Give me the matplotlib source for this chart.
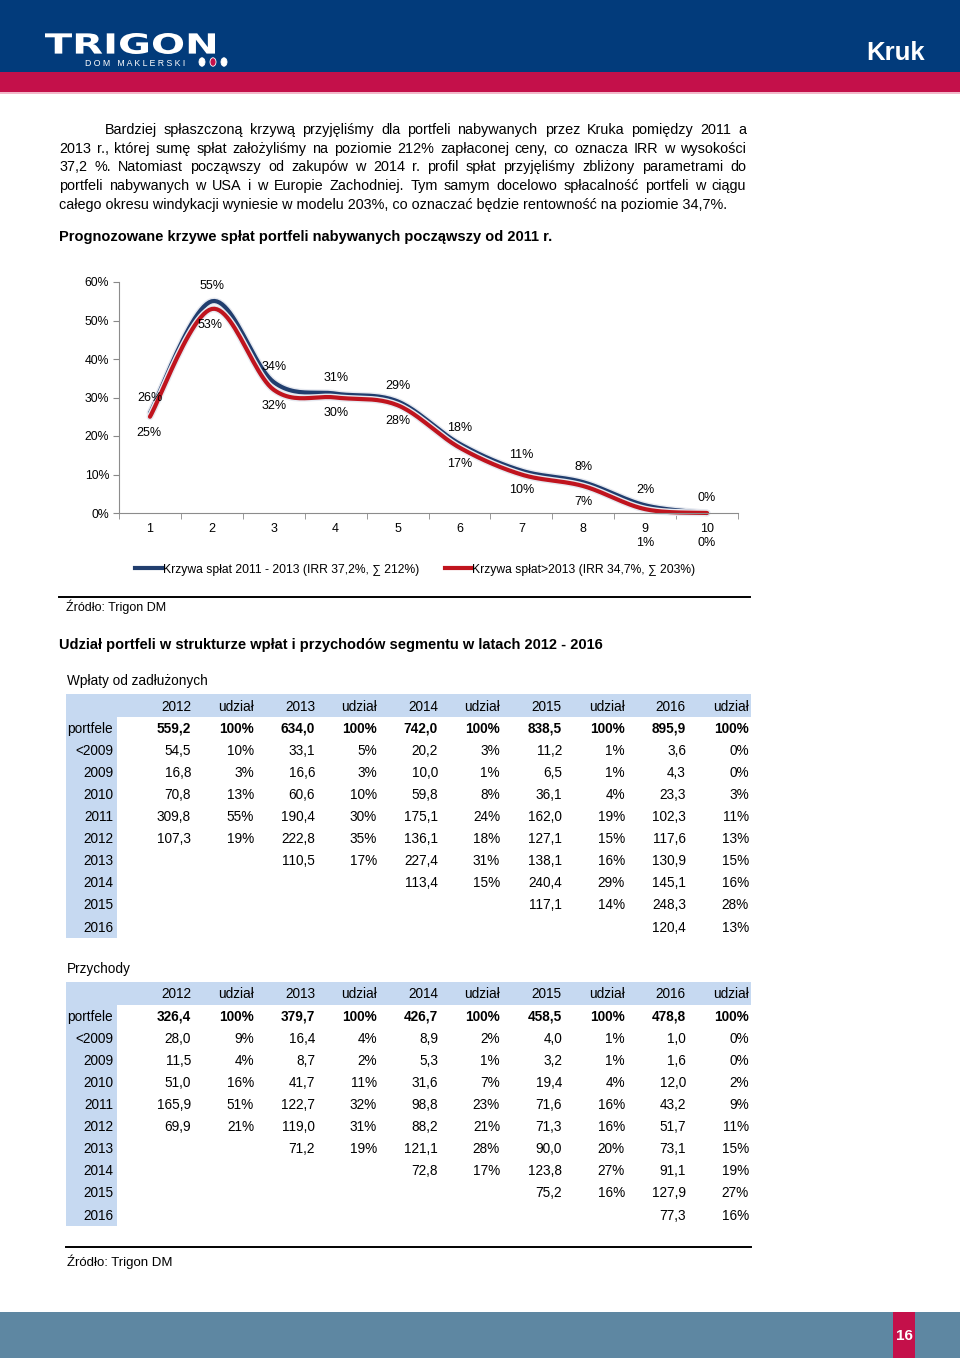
import matplotlib
matplotlib.use("Agg")
import matplotlib.pyplot as plt
import numpy as np
from matplotlib.patches import Rectangle, Circle, PathPatch
from matplotlib.lines import Line2D
from matplotlib.textpath import TextPath
from matplotlib.font_manager import FontProperties
from matplotlib.transforms import Affine2D

# chart data: forecast repayment curves (share of price per year)
periods = [1, 2, 3, 4, 5, 6, 7, 8, 9, 10]
curve_2011_2013 = [0.26, 0.55, 0.34, 0.31, 0.29, 0.18, 0.11, 0.08, 0.02, 0.00]
curve_after_2013 = [0.25, 0.53, 0.32, 0.30, 0.28, 0.17, 0.10, 0.07, 0.01, 0.00]
name_2011_2013 = "Krzywa spłat 2011 - 2013 (IRR 37,2%, \u2211 212%)"
name_after_2013 = "Krzywa spłat>2013 (IRR 34,7%, \u2211 203%)"

# tables
years = ["2012", "2013", "2014", "2015", "2016"]
row_labels = ["portfele", "<2009", "2009", "2010", "2011", "2012", "2013", "2014", "2015", "2016"]

wplaty_vals = {
    "2012": [559.2, 54.5, 16.8, 70.8, 309.8, 107.3],
    "2013": [634.0, 33.1, 16.6, 60.6, 190.4, 222.8, 110.5],
    "2014": [742.0, 20.2, 10.0, 59.8, 175.1, 136.1, 227.4, 113.4],
    "2015": [838.5, 11.2, 6.5, 36.1, 162.0, 127.1, 138.1, 240.4, 117.1],
    "2016": [895.9, 3.6, 4.3, 23.3, 102.3, 117.6, 130.9, 145.1, 248.3, 120.4],
}
wplaty_share = {
    "2012": [100, 10, 3, 13, 55, 19],
    "2013": [100, 5, 3, 10, 30, 35, 17],
    "2014": [100, 3, 1, 8, 24, 18, 31, 15],
    "2015": [100, 1, 1, 4, 19, 15, 16, 29, 14],
    "2016": [100, 0, 0, 3, 11, 13, 15, 16, 28, 13],
}
przychody_vals = {
    "2012": [326.4, 28.0, 11.5, 51.0, 165.9, 69.9],
    "2013": [379.7, 16.4, 8.7, 41.7, 122.7, 119.0, 71.2],
    "2014": [426.7, 8.9, 5.3, 31.6, 98.8, 88.2, 121.1, 72.8],
    "2015": [458.5, 4.0, 3.2, 19.4, 71.6, 71.3, 90.0, 123.8, 75.2],
    "2016": [478.8, 1.0, 1.6, 12.0, 43.2, 51.7, 73.1, 91.1, 127.9, 77.3],
}
przychody_share = {
    "2012": [100, 9, 4, 16, 51, 21],
    "2013": [100, 4, 2, 11, 32, 31, 19],
    "2014": [100, 2, 1, 7, 23, 21, 28, 17],
    "2015": [100, 1, 1, 4, 16, 16, 20, 27, 16],
    "2016": [100, 0, 0, 2, 9, 11, 15, 19, 27, 16],
}

paragraph = [
    "Bardziej spłaszczoną krzywą przyjęliśmy dla portfeli nabywanych przez Kruka pomiędzy 2011 a",
    "2013 r., której sumę spłat założyliśmy na poziomie 212% zapłaconej ceny, co oznacza IRR w wysokości",
    "37,2 %. Natomiast począwszy od zakupów w 2014 r. profil spłat przyjęliśmy zbliżony parametrami do",
    "portfeli nabywanych w USA i w Europie Zachodniej. Tym samym docelowo spłacalność portfeli w ciągu",
    "całego okresu windykacji wyniesie w modelu 203%, co oznaczać będzie rentowność na poziomie 34,7%.",
]

NAVY = "#023B7B"
CRIMSON = "#C4104A"
STEEL = "#5E87A2"
LIGHTBLUE = "#C6D9F1"
BLUE_LINE = "#213E6E"
RED_LINE = "#C0141E"

plt.rcParams["font.family"] = ["Liberation Sans", "DejaVu Sans"]

W, H = 960, 1358
fig = plt.figure(figsize=(W / 100, H / 100), dpi=100)
fig.patch.set_facecolor("white")
renderer = fig.canvas.get_renderer()


def fx(x):
    return x / W


def fy(y):
    return 1 - y / H


def put(x, y, s, **kw):
    kw.setdefault("va", "center_baseline")
    kw.setdefault("ha", "left")
    return fig.text(fx(x), fy(y), s, **kw)


def box(x0, y0, x1, y1, color):
    fig.add_artist(Rectangle((fx(x0), fy(y1)), (x1 - x0) / W, (y1 - y0) / H,
                             transform=fig.transFigure, color=color, lw=0))


def hline(x0, x1, y, color="black", lw=1.5):
    fig.add_artist(Line2D([fx(x0), fx(x1)], [fy(y), fy(y)], transform=fig.transFigure,
                          color=color, lw=lw))


def justify(line, x0, x1, y, **kw):
    words = line.split(" ")
    ts = [put(0, y, w, **kw) for w in words]
    ws = [t.get_window_extent(renderer).width for t in ts]
    gap = (x1 - x0 - sum(ws)) / (len(words) - 1)
    x = x0
    for t, w in zip(ts, ws):
        t.set_x(fx(x))
        x += w + gap


# ---- header / footer
box(0, 0, W, 72, NAVY)
box(0, 72, W, 92, CRIMSON)
box(0, 92, W, 94, "#F2B9CA")

logo = TextPath((0, 0), "TRIGON", size=1, prop=FontProperties(family="DejaVu Sans", weight="bold"))
ext = logo.get_extents()
sx = 170 / ext.width
sy = 21 / ext.height
tr = Affine2D().translate(-ext.x0, -ext.y0).scale(sx, sy).translate(45, H - 54)
fig.add_artist(PathPatch(logo, transform=tr, color="white", lw=0))
put(85, 62, "D O M   M A K L E R S K I", fontsize=6.3, color="white")
for cx, c in [(202, "white"), (213, CRIMSON), (224, "white")]:
    fig.add_artist(Circle((fx(cx), fy(62)), 3.0 / W, transform=fig.transFigure, color=c,
                          ec="white", lw=0.6))
put(925, 50, "Kruk", fontsize=18.5, color="white", ha="right", weight="bold")

box(0, 1312, W, H, STEEL)
box(893, 1312, 915, H, CRIMSON)
put(904, 1335, "16", fontsize=11, color="white", ha="center", weight="bold")

# ---- paragraph
for i, line in enumerate(paragraph):
    y = 128.5 + i * 18.7
    if i == 0:
        justify(line, 105, 746, y, fontsize=10.4)
    elif i < len(paragraph) - 1:
        justify(line, 59, 746, y, fontsize=10.4)
    else:
        put(59, y, line, fontsize=10.4)

put(59, 236, "Prognozowane krzywe spłat portfeli nabywanych począwszy od 2011 r.",
    fontsize=10.5, weight="bold")


# ---- chart
def smooth(x, y, n=24):
    pts = np.column_stack([x, y]).astype(float)
    P = np.vstack([pts[0], pts, pts[-1]])
    out = []
    t = np.linspace(0, 1, n, endpoint=False)[:, None]
    for i in range(1, len(P) - 2):
        p0, p1, p2, p3 = P[i - 1], P[i], P[i + 1], P[i + 2]
        c = 0.5 * (2 * p1 + (-p0 + p2) * t + (2 * p0 - 5 * p1 + 4 * p2 - p3) * t ** 2
                   + (-p0 + 3 * p1 - 3 * p2 + p3) * t ** 3)
        out.append(c)
    out.append(P[-2][None])
    return np.vstack(out)


ax = fig.add_axes([fx(119), fy(513), (738 - 119) / W, (513 - 282) / H])
for vals, col in [(curve_2011_2013, BLUE_LINE), (curve_after_2013, RED_LINE)]:
    s = smooth(periods, vals)
    ax.plot(s[:, 0], s[:, 1], color="#E6E9F0", lw=5, solid_capstyle="round", clip_on=False)
    ax.plot(s[:, 0], s[:, 1], color=col, lw=3, solid_capstyle="round", clip_on=False)

ax.set_xlim(0.5, 10.5)
ax.set_ylim(0, 0.6)
ax.set_yticks(np.arange(0, 0.61, 0.1))
ax.set_yticklabels([f"{int(round(v * 100))}%" for v in np.arange(0, 0.61, 0.1)])
ax.set_xticks(periods)
ax.set_xticklabels([str(p) for p in periods])
ax.set_xticks(np.arange(0.5, 10.6, 1), minor=True)
ax.tick_params(axis="x", which="major", length=0, pad=7, labelsize=9)
ax.tick_params(axis="x", which="minor", length=4, color="#888888")
ax.tick_params(axis="y", length=4, color="#888888", labelsize=8.8, pad=3)
for side in ["top", "right"]:
    ax.spines[side].set_visible(False)
for side in ["left", "bottom"]:
    ax.spines[side].set_color("#8c8c8c")
ax.patch.set_alpha(0)

for p, v in zip(periods, curve_2011_2013):
    ax.annotate(f"{round(v * 100)}%", (p, v), xytext=(0, 11), textcoords="offset points",
                ha="center", va="center", fontsize=9)
for p, v in zip(periods, curve_after_2013):
    dy = -11.5 if v > 0.015 else -(543 - 513) * 0.72
    ax.annotate(f"{round(v * 100)}%", (p, 0 if v <= 0.015 else v), xytext=(-1 if p < 3 else 0, dy),
                textcoords="offset points", ha="center", va="center", fontsize=9)

# legend
hline(135, 163, 568, BLUE_LINE, 3)
put(163, 568, name_2011_2013, fontsize=8.7)
hline(445, 472, 568, RED_LINE, 3)
put(472, 568, name_after_2013, fontsize=8.7)

hline(59, 750, 597, "black", 1.4)
put(66, 605, "Źródło: Trigon DM", fontsize=9)

put(59, 644, "Udział portfeli w strukturze wpłat i przychodów segmentu w latach 2012 - 2016",
    fontsize=10.5, weight="bold")

# ---- tables
col_right = [191, 254, 315, 377, 438, 500, 562, 625, 686, 749]


def fmt(v):
    return f"{v:.1f}".replace(".", ",")


def draw_table(title, title_y, head_y, vals, shares):
    put(67, title_y, title, fontsize=9.8)
    row_h = 22.1
    top = head_y - 11.5
    bottom = head_y + row_h * len(row_labels) + 11.5
    box(66, top, 751, top + 23, LIGHTBLUE)
    box(66, top, 117, bottom, LIGHTBLUE)
    for j, yr in enumerate(years):
        put(col_right[2 * j], head_y, yr, fontsize=9.8, ha="right")
        put(col_right[2 * j + 1], head_y, "udział", fontsize=9.8, ha="right")
    for i, lab in enumerate(row_labels):
        y = head_y + row_h * (i + 1)
        put(113, y, lab, fontsize=9.8, ha="right")
        bold = "bold" if i == 0 else "normal"
        for j, yr in enumerate(years):
            if i < len(vals[yr]):
                put(col_right[2 * j], y, fmt(vals[yr][i]), fontsize=9.8, ha="right", weight=bold)
                put(col_right[2 * j + 1], y, f"{shares[yr][i]}%", fontsize=9.8, ha="right",
                    weight=bold)


draw_table("Wpłaty od zadłużonych", 680, 705, wplaty_vals, wplaty_share)
draw_table("Przychody", 968, 993, przychody_vals, przychody_share)

hline(66, 751, 1247, "black", 1.4)
put(67, 1260, "Źródło: Trigon DM", fontsize=9.5)

fig.savefig("out.png", dpi=100)
